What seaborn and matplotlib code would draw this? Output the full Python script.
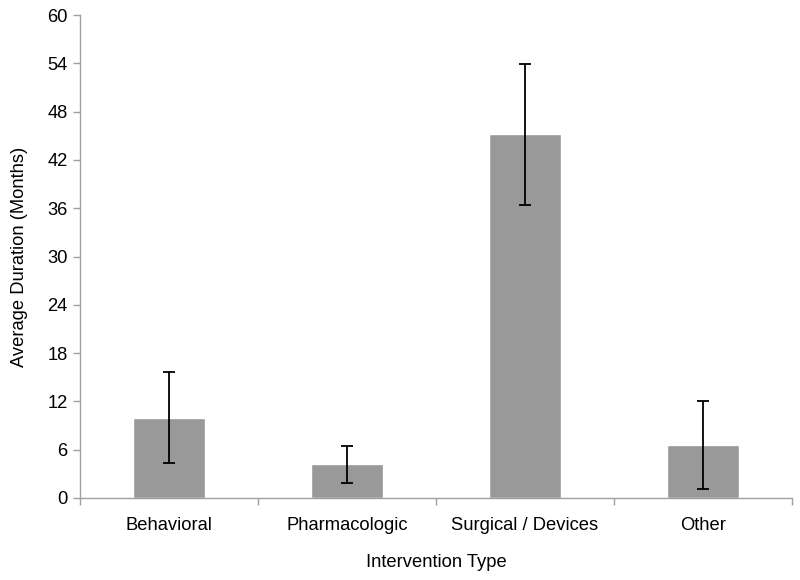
import matplotlib
matplotlib.use("Agg")
import matplotlib.pyplot as plt
import seaborn as sns
import pandas as pd
import numpy as np

categories = ["Behavioral", "Pharmacologic", "Surgical / Devices", "Other"]
means = [10.0, 4.2, 45.2, 6.6]
errors = [5.7, 2.3, 8.75, 5.5]
yticks = [0, 6, 12, 18, 24, 30, 36, 42, 48, 54, 60]

sns.set_theme(style="white")
plt.rcParams['font.family'] = ['Liberation Sans', 'DejaVu Sans']
plt.rcParams['text.color'] = 'black'
plt.rcParams['axes.labelcolor'] = 'black'
plt.rcParams['xtick.labelcolor'] = 'black'
plt.rcParams['ytick.labelcolor'] = 'black'

fs = 13.2
df = pd.DataFrame({"Intervention Type": categories, "Average Duration (Months)": means})

fig = plt.figure(figsize=(8, 5.8), dpi=100)
ax = fig.add_axes([0.1, 0.1414, 0.89, 0.8326])

sns.barplot(data=df, x="Intervention Type", y="Average Duration (Months)",
            color="#999999", saturation=1, width=0.4, ax=ax, errorbar=None)
ax.errorbar(np.arange(len(categories)), means, yerr=errors, fmt="none",
            ecolor="black", elinewidth=1.3, capsize=4, capthick=1.3)

ax.set_xlim(-0.5, len(categories) - 0.5)
ax.set_ylim(0, 60)
ax.set_yticks(yticks)
ax.set_yticklabels([str(t) for t in yticks], fontsize=fs)
ax.set_xticks(np.arange(len(categories)))
ax.set_xticklabels(categories, fontsize=fs)
ax.set_xticks(np.arange(-0.5, len(categories)), minor=True)
ax.tick_params(axis="x", which="major", length=0, pad=14)
ax.tick_params(axis="x", which="minor", length=5, color="#A0A0A0", width=1, direction="out", bottom=True)
ax.tick_params(axis="y", length=5, color="#A0A0A0", width=1, direction="out", left=True, pad=4)

for s in ["top", "right"]:
    ax.spines[s].set_visible(False)
for s in ["left", "bottom"]:
    ax.spines[s].set_color("#A0A0A0")
    ax.spines[s].set_linewidth(1)

ax.set_xlabel("Intervention Type", fontsize=fs, labelpad=14)
ax.set_ylabel("Average Duration (Months)", fontsize=fs, labelpad=14)

fig.savefig("out.png", dpi=100)
